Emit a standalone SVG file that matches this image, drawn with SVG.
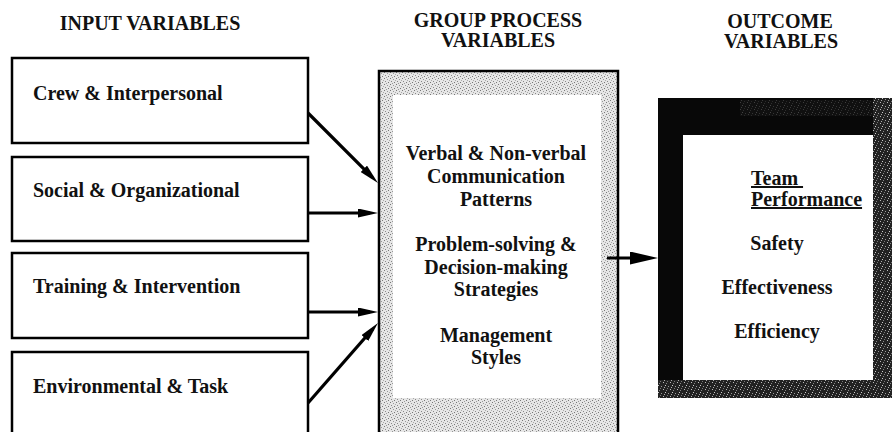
<svg xmlns="http://www.w3.org/2000/svg" width="892" height="432" viewBox="0 0 892 432">
<style>
text{font-family:"Liberation Serif","Times New Roman",serif;font-weight:bold;font-size:20px;fill:#111}
.c{text-anchor:middle}
.box{fill:#fff;stroke:#000;stroke-width:2.5}
.conn{stroke:#000;stroke-width:3.2;fill:none}
.u{text-decoration:underline}
</style>
<defs>
<pattern id="stip" width="6" height="6" patternUnits="userSpaceOnUse">
<rect width="6" height="6" fill="#e6e6e6"/>
<rect x="0" y="0" width="1" height="1" fill="#777"/>
<rect x="3" y="1" width="1" height="1" fill="#999"/>
<rect x="1" y="3" width="1" height="1" fill="#888"/>
<rect x="4" y="4" width="1" height="1" fill="#777"/>
<rect x="5" y="2" width="1" height="1" fill="#aaa"/>
<rect x="2" y="5" width="1" height="1" fill="#999"/>
</pattern>
<pattern id="speck" width="7" height="7" patternUnits="userSpaceOnUse">
<rect width="7" height="7" fill="#222"/>
<rect x="0" y="0" width="1" height="1" fill="#ccc"/>
<rect x="3" y="1" width="1" height="1" fill="#999"/>
<rect x="5" y="4" width="1" height="1" fill="#bbb"/>
<rect x="1" y="5" width="1" height="1" fill="#888"/>
<rect x="6" y="2" width="1" height="1" fill="#aaa"/>
<rect x="2" y="3" width="1" height="1" fill="#777"/>
</pattern>
<marker id="ah" markerUnits="userSpaceOnUse" markerWidth="20" markerHeight="9" refX="12" refY="4.5" orient="auto">
<path d="M0,0 L20,4.5 L0,9 z" fill="#000"/>
</marker>
<marker id="ahb" markerUnits="userSpaceOnUse" markerWidth="28" markerHeight="13" refX="18" refY="6.5" orient="auto">
<path d="M0,0 L28,6.5 L0,13 z" fill="#000"/>
</marker>
</defs>
<rect width="892" height="432" fill="#fff"/>

<g id="headers">
<text class="c" x="150" y="30">INPUT VARIABLES</text>
<text class="c" x="498" y="27">GROUP PROCESS</text>
<text class="c" x="498" y="47">VARIABLES</text>
<text class="c" x="780" y="28">OUTCOME</text>
<text class="c" x="781" y="48">VARIABLES</text>
</g>

<g id="crew">
<rect class="box" x="12" y="58" width="296" height="85"/>
<text x="33" y="100">Crew &amp; Interpersonal</text>
</g>
<g id="social">
<rect class="box" x="12" y="157" width="296" height="84"/>
<text x="33" y="197">Social &amp; Organizational</text>
</g>
<g id="training">
<rect class="box" x="12" y="253" width="296" height="85"/>
<text x="33" y="293">Training &amp; Intervention</text>
</g>
<g id="environmental">
<rect class="box" x="12" y="352" width="296" height="90"/>
<text x="33" y="393">Environmental &amp; Task</text>
</g>

<g id="group-process">
<rect x="379" y="71" width="239" height="380" fill="url(#stip)" stroke="#000" stroke-width="2.5"/>
<rect x="393" y="95" width="208" height="303" fill="#fff"/>
<text class="c" x="496" y="160">Verbal &amp; Non-verbal</text>
<text class="c" x="496" y="183">Communication</text>
<text class="c" x="496" y="206">Patterns</text>
<text class="c" x="496" y="251">Problem-solving &amp;</text>
<text class="c" x="496" y="274">Decision-making</text>
<text class="c" x="496" y="296">Strategies</text>
<text class="c" x="496" y="342">Management</text>
<text class="c" x="496" y="364">Styles</text>
</g>

<g id="outcome">
<rect x="658" y="98" width="234" height="300" fill="#080808"/>
<rect x="658" y="380" width="234" height="18" fill="url(#speck)"/>
<rect x="873" y="98" width="19" height="282" fill="url(#speck)"/>
<rect x="740" y="100" width="133" height="16" fill="url(#speck)" opacity="0.3"/>
<rect x="683" y="135" width="190" height="245" fill="#fff"/>
<text class="u" x="751" y="185">Team&#160;</text>
<text class="u" x="751" y="206">Performance</text>
<text class="c" x="777" y="250">Safety</text>
<text class="c" x="777" y="294">Effectiveness</text>
<text class="c" x="777" y="338">Efficiency</text>
</g>

<g id="connectors">
<line class="conn" x1="308" y1="113" x2="372.3" y2="177.3" marker-end="url(#ah)"/>
<line class="conn" x1="308" y1="213" x2="370" y2="213" marker-end="url(#ah)"/>
<line class="conn" x1="308" y1="312" x2="370" y2="312" marker-end="url(#ah)"/>
<line class="conn" x1="308" y1="403" x2="372.7" y2="329" marker-end="url(#ah)"/>
<line class="conn" x1="607" y1="258" x2="648" y2="258" marker-end="url(#ahb)"/>
</g>
</svg>
